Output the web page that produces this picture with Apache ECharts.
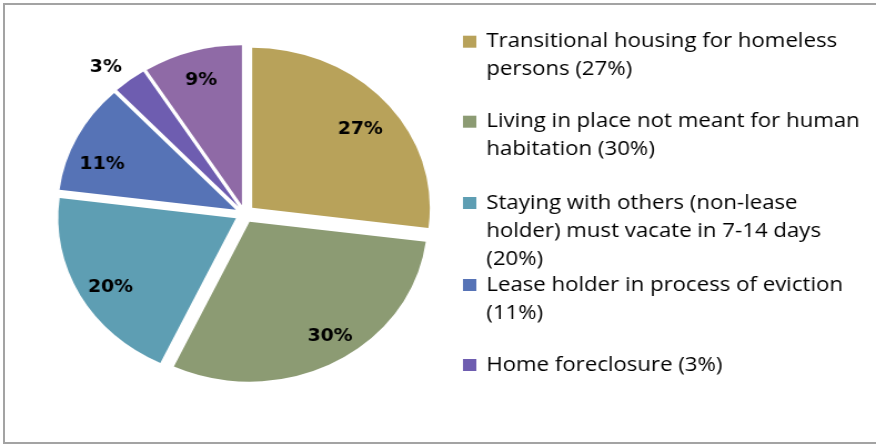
<!DOCTYPE html>
<html>
<head>
<meta charset="utf-8">
<script src="https://cdn.jsdelivr.net/npm/echarts@6/dist/echarts.min.js"></script>
<style>
  html, body { margin: 0; padding: 0; background: #fff; overflow: hidden; }
  #frame { position: absolute; left: 3px; top: 3px; width: 890px; height: 437px; border: 2px solid #a3a3a3; box-sizing: content-box; }
  #main { position: absolute; left: 0; top: 0; width: 789px; height: 445px; transform: scaleX(1.11027); transform-origin: 0 0; }
</style>
</head>
<body>
<div id="frame"></div>
<div id="main"></div>
<script>
// ---- data ----
const categories = [
  'Transitional housing for homeless persons (27%)',
  'Living in place not meant for human habitation (30%)',
  'Staying with others (non-lease holder) must vacate in 7-14 days (20%)',
  'Lease holder in process of eviction (11%)',
  'Home foreclosure (3%)',
  'Other (9%)'
];
const values = [27, 30, 20, 11, 3, 9];
const colors = ['#B8A25A', '#8C9B73', '#5E9EB3', '#5673B6', '#6E5DB0', '#8F6AA6'];
const legendLines = [
  ['Transitional housing for homeless', 'persons (27%)'],
  ['Living in place not meant for human', 'habitation (30%)'],
  ['Staying with others (non-lease', 'holder) must vacate in 7-14 days', '(20%)'],
  ['Lease holder in process of eviction', '(11%)'],
  ['Home foreclosure (3%)']
];

// ---- layout constants ----
const legendLineCenters = [41.7, 121.7, 203, 285, 365];
const outsideLabelIndex = 4; // the 3% label sits outside the pie
// small label nudges [dx, dy] so labels sit where the original placed them
const labelNudge = [[-1.5, 9], [9, -1], [2.5, 6], [-3, 15], [-5, 9], [0, 2]];
const CX = 220.4, CY = 213.8, R = 160, OFFSET = 9;
const LH = 28;
const labelFont = { fontFamily: 'DejaVu Sans', fontWeight: 'bold', fontSize: 17, color: '#000' };

const chart = echarts.init(document.getElementById('main'), null, { renderer: 'canvas' });

const baseSeries = {
  type: 'pie',
  center: [CX, CY],
  startAngle: 90,
  clockwise: true,
  selectedMode: 'multiple',
  selectedOffset: OFFSET,
  animation: false,
  silent: true,
  emphasis: { disabled: true },
  labelLine: { show: false }
};

const nudge = p => ({ dx: labelNudge[p.dataIndex][0], dy: labelNudge[p.dataIndex][1] });

const mainSeries = Object.assign({}, baseSeries, {
  name: 'main',
  radius: [0, R],
  label: { show: false },
  data: categories.map((c, i) => ({
    name: c, value: values[i], selected: true,
    itemStyle: { color: colors[i] }
  }))
});

const innerLabelSeries = Object.assign({}, baseSeries, {
  name: 'labels',
  radius: [R * 0.61, R],
  itemStyle: { color: 'rgba(0,0,0,0)' },
  label: Object.assign({ show: true, position: 'inside', formatter: p => p.value + '%' }, labelFont),
  labelLayout: nudge,
  data: categories.map((c, i) => ({
    name: c, value: values[i], selected: true,
    label: { show: i !== outsideLabelIndex }
  }))
});

const outerLabelSeries = Object.assign({}, baseSeries, {
  name: 'outerLabels',
  radius: [R, R * 1.3],
  itemStyle: { color: 'rgba(0,0,0,0)' },
  label: Object.assign({ show: true, position: 'inside', formatter: p => p.value + '%' }, labelFont),
  labelLayout: nudge,
  data: categories.map((c, i) => ({
    name: c, value: values[i], selected: true,
    label: { show: i === outsideLabelIndex }
  }))
});

const legends = legendLines.map((lines, i) => {
  const n = lines.length;
  return {
    orient: 'vertical',
    left: 417,
    top: legendLineCenters[i] - (2 * n - 1) * LH / 2,
    padding: 0,
    itemWidth: 12,
    itemHeight: 12,
    selectedMode: false,
    data: [{ name: categories[i], icon: 'rect', itemStyle: { color: colors[i] } }],
    // leading blank lines keep the icon level with the first text line
    formatter: () => '\n'.repeat(n - 1) + lines.join('\n'),
    textStyle: {
      fontFamily: 'Open Sans',
      fontSize: 20,
      color: '#000',
      lineHeight: LH,
      padding: [0, 0, 0, 4]
    }
  };
});

chart.setOption({
  animation: false,
  backgroundColor: 'transparent',
  legend: legends,
  series: [mainSeries, innerLabelSeries, outerLabelSeries]
});
</script>
</body>
</html>
